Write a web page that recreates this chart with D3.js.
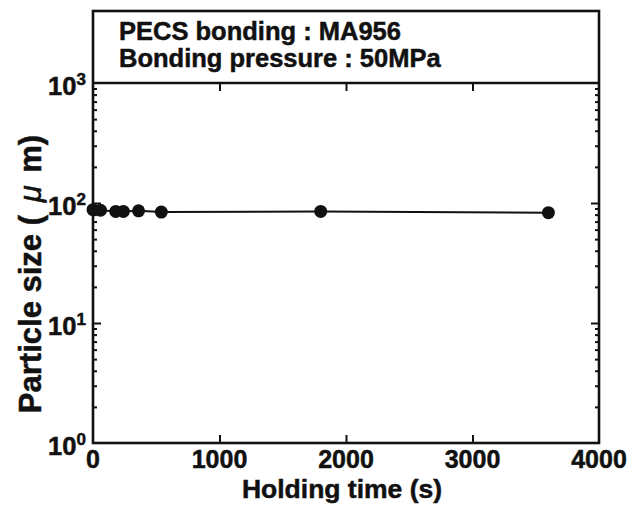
<!DOCTYPE html>
<html>
<head>
<meta charset="utf-8">
<script src="https://cdn.jsdelivr.net/npm/d3@7"></script>
<style>
  html, body { margin: 0; padding: 0; background: #fff; }
  svg { display: block; }
  text { font-family: "Liberation Sans", Arial, Helvetica, sans-serif; font-weight: bold; fill: #111; stroke: #111; stroke-width: 0.5; }
</style>
</head>
<body>
<svg id="chart" width="639" height="511"></svg>
<script>
// Holding time (s) and measured particle size (µm)
const holdingTime = [0, 60, 180, 240, 360, 540, 1800, 3600];
const particleSize = [88, 87, 85, 85, 86, 84, 85, 83];

const xTicks = [0, 1000, 2000, 3000, 4000];
const yDecades = [0, 1, 2, 3];
const headerLines = ["PECS bonding : MA956", "Bonding pressure : 50MPa"];
const xTitle = "Holding time (s)";

const svg = d3.select("#chart");
const m = { left: 93, right: 599, top: 83, bottom: 443, boxTop: 11 };

const x = d3.scaleLinear().domain([0, 4000]).range([m.left, m.right]);
const y = d3.scaleLog().domain([1, 1000]).range([m.bottom, m.top]);

const ink = "#111";

// Frame, with the header strip above the plot area
svg.append("rect")
  .attr("x", m.left).attr("y", m.boxTop)
  .attr("width", m.right - m.left).attr("height", m.bottom - m.boxTop)
  .attr("fill", "none").attr("stroke", ink).attr("stroke-width", 2.6);
svg.append("line")
  .attr("x1", m.left).attr("x2", m.right).attr("y1", m.top).attr("y2", m.top)
  .attr("stroke", ink).attr("stroke-width", 2.6);

svg.selectAll("text.header").data(headerLines).join("text")
  .attr("class", "header")
  .attr("x", 119)
  .attr("y", (d, i) => 40 + i * 27)
  .attr("font-size", 25.5)
  .text(d => d);

// Axes: ticks point inward on all four sides of the plot frame
const plot = svg.append("g");

const xAxisB = d3.axisBottom(x).tickValues(xTicks.slice(1, -1)).tickSize(-8).tickFormat("");
const xAxisT = d3.axisTop(x).tickValues(xTicks.slice(1, -1)).tickSize(-8).tickFormat("");
plot.append("g").attr("transform", `translate(0,${m.bottom})`).call(xAxisB);
plot.append("g").attr("transform", `translate(0,${m.top})`).call(xAxisT);

const minorVals = [];
for (let d = 0; d < 3; d++) for (let k = 2; k <= 9; k++) minorVals.push(k * Math.pow(10, d));
const majorVals = yDecades.slice(1, -1).map(e => Math.pow(10, e));

[[d3.axisLeft, m.left], [d3.axisRight, m.right]].forEach(([axisFn, px]) => {
  plot.append("g").attr("transform", `translate(${px},0)`)
    .call(axisFn(y).tickValues(minorVals).tickSize(-4).tickFormat(""));
  plot.append("g").attr("transform", `translate(${px},0)`)
    .call(axisFn(y).tickValues(majorVals).tickSize(-8).tickFormat(""));
});
plot.selectAll(".domain").remove();
plot.selectAll(".tick line").attr("stroke", ink).attr("stroke-width", 2);

// X tick labels
svg.selectAll("text.xlab").data(xTicks).join("text")
  .attr("class", "xlab")
  .attr("x", d => x(d))
  .attr("y", 468)
  .attr("text-anchor", "middle")
  .attr("font-size", 25)
  .text(d => d);

// Y tick labels as powers of ten
const ylab = svg.selectAll("text.ylab").data(yDecades).join("text")
  .attr("class", "ylab")
  .attr("y", d => y(Math.pow(10, d)) + 12)
  .attr("font-size", 25.5);
ylab.append("tspan").attr("x", 48).text("10");
ylab.append("tspan").attr("font-size", 17).attr("dy", -10).text(d => d);

// Axis titles
svg.append("text")
  .attr("x", 342).attr("y", 498)
  .attr("text-anchor", "middle")
  .attr("font-size", 26.5)
  .text(xTitle);

const yt = svg.append("text")
  .attr("transform", "translate(41,274) rotate(-90)")
  .attr("text-anchor", "middle")
  .attr("font-size", 31);
yt.append("tspan").text("Particle size ( ");
yt.append("tspan").attr("dx", 4).attr("font-style", "italic").attr("font-weight", "normal").text("μ");
yt.append("tspan").attr("dx", 4).text(" m)");

// Data: connecting line and filled markers
const pts = holdingTime.map((t, i) => [t, particleSize[i]]);
svg.append("path")
  .datum(pts)
  .attr("fill", "none")
  .attr("stroke", ink)
  .attr("stroke-width", 2)
  .attr("d", d3.line().x(d => x(d[0])).y(d => y(d[1])));

svg.selectAll("circle.pt").data(pts).join("circle")
  .attr("class", "pt")
  .attr("cx", d => x(d[0]))
  .attr("cy", d => y(d[1]))
  .attr("r", 6.5)
  .attr("fill", ink);
</script>
</body>
</html>
